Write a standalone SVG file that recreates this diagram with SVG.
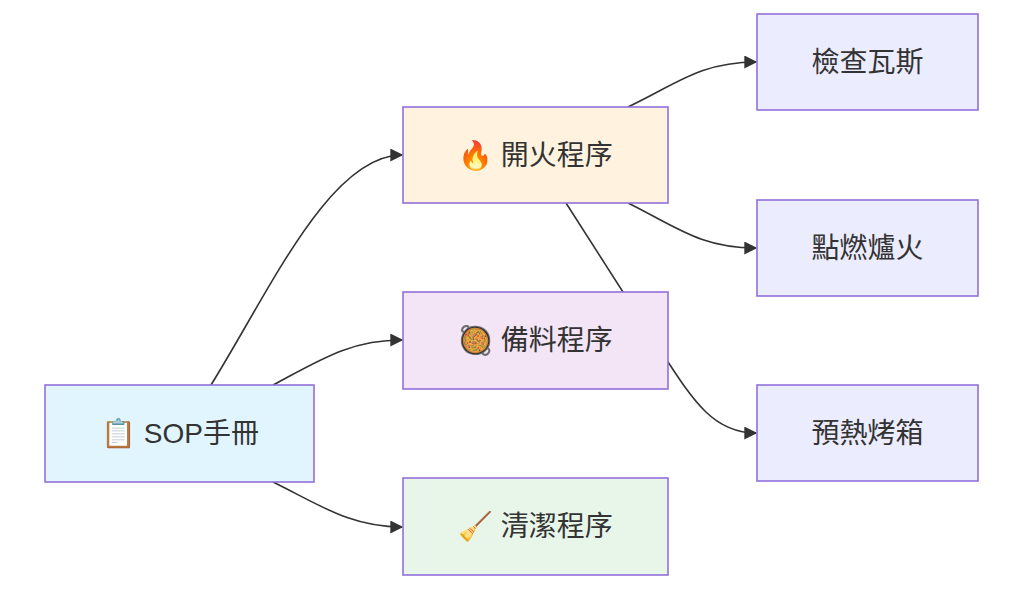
<svg xmlns="http://www.w3.org/2000/svg" width="1024" height="589" viewBox="0 0 1024 589">
<style>
.n rect{stroke:#9370db;stroke-width:1.6}
.n text{font-family:"Liberation Sans","Noto Sans CJK TC","Noto Color Emoji",sans-serif;font-size:28px;fill:#333;text-anchor:middle;dominant-baseline:central}
.e path{fill:none;stroke:#333;stroke-width:1.6}
</style>
<defs>
<marker id="arr" viewBox="0 0 10 10" refX="9" refY="5" markerWidth="14" markerHeight="13" markerUnits="userSpaceOnUse" orient="auto">
<path d="M0,0 L10,5 L0,10 z" fill="#333"/>
</marker>
</defs>
<rect width="1024" height="589" fill="#fff"/>
<g id="connectors" class="e">
<path d="M211,385 C270,290 330,155 402,155" marker-end="url(#arr)"/>
<path d="M273,385 C320,360 350,340 402,340" marker-end="url(#arr)"/>
<path d="M273,482 C320,505 350,527 402,527" marker-end="url(#arr)"/>
<path d="M628,107 C675,85 700,62 756,62" marker-end="url(#arr)"/>
<path d="M628,203 C675,226 700,248 756,248" marker-end="url(#arr)"/>
<path d="M566,203 L655,342 C690,395 710,433 756,433" marker-end="url(#arr)"/>
</g>
<g id="sop" class="n"><rect x="45" y="385" width="269" height="97" fill="#e1f5fe"/><text x="180" y="433">📋 SOP手冊</text></g>
<g id="fire" class="n"><rect x="403" y="107" width="265" height="96" fill="#fff3e0"/><text x="535.5" y="155">🔥 開火程序</text></g>
<g id="prep" class="n"><rect x="403" y="292" width="265" height="97" fill="#f3e5f5"/><text x="535.5" y="340">🥘 備料程序</text></g>
<g id="clean" class="n"><rect x="403" y="478" width="265" height="97" fill="#e8f5e9"/><text x="535.5" y="526">🧹 清潔程序</text></g>
<g id="gas" class="n"><rect x="757" y="14" width="221" height="96" fill="#ececff"/><text x="867.5" y="62">檢查瓦斯</text></g>
<g id="ignite" class="n"><rect x="757" y="200" width="221" height="96" fill="#ececff"/><text x="867.5" y="248">點燃爐火</text></g>
<g id="oven" class="n"><rect x="757" y="385" width="221" height="96" fill="#ececff"/><text x="867.5" y="433">預熱烤箱</text></g>
</svg>
